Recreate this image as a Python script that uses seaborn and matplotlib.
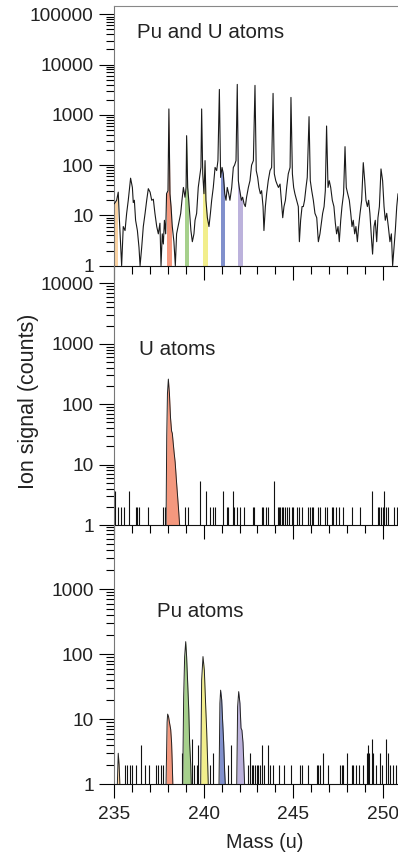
import numpy as np
import matplotlib
matplotlib.use("Agg")
import matplotlib.pyplot as plt
import matplotlib.ticker as ticker
from matplotlib.patches import Rectangle
import seaborn as sns

sns.set_style("ticks")
plt.rcParams['font.family'] = ['Liberation Sans', 'DejaVu Sans']

# --- top panel: Pu and U atoms (mass in u, ion counts) ---
mix_mass = [235.00, 235.13, 235.22, 235.28, 235.41, 235.50, 235.60, 235.69, 235.78, 235.91,
            236.01, 236.06, 236.12, 236.19, 236.29, 236.38, 236.44, 236.53, 236.62, 236.72,
            236.81, 236.90, 237.00, 237.09, 237.18, 237.27, 237.37, 237.46, 237.55, 237.61,
            237.68, 237.74, 237.80, 237.87, 237.92, 238.00, 238.05, 238.11, 238.17, 238.24,
            238.33, 238.41, 238.48, 238.56, 238.63, 238.71, 238.78, 238.86, 238.95, 239.01,
            239.04, 239.10, 239.16, 239.23, 239.28, 239.36, 239.45, 239.51, 239.60, 239.69,
            239.79, 239.84, 239.88, 239.94, 240.01, 240.07, 240.12, 240.20, 240.29, 240.37,
            240.44, 240.53, 240.63, 240.72, 240.79, 240.87, 240.94, 241.02, 241.09, 241.17,
            241.24, 241.31, 241.39, 241.46, 241.56, 241.65, 241.72, 241.80, 241.87, 241.93,
            241.98, 242.04, 242.10, 242.17, 242.25, 242.32, 242.39, 242.49, 242.58, 242.67,
            242.77, 242.86, 242.93, 243.01, 243.08, 243.16, 243.23, 243.31, 243.36, 243.44,
            243.51, 243.60, 243.70, 243.79, 243.87, 243.94, 244.02, 244.09, 244.17, 244.26,
            244.33, 244.41, 244.48, 244.56, 244.63, 244.72, 244.82, 244.87, 244.95, 245.02,
            245.09, 245.19, 245.28, 245.34, 245.41, 245.49, 245.56, 245.63, 245.71, 245.78,
            245.88, 245.95, 246.03, 246.12, 246.21, 246.31, 246.40, 246.49, 246.57, 246.64,
            246.72, 246.79, 246.86, 246.94, 247.01, 247.09, 247.18, 247.27, 247.35, 247.42,
            247.50, 247.57, 247.65, 247.72, 247.81, 247.89, 247.96, 248.04, 248.13, 248.21,
            248.28, 248.35, 248.43, 248.50, 248.58, 248.65, 248.73, 248.82, 248.91, 248.99,
            249.06, 249.14, 249.21, 249.28, 249.38, 249.43, 249.51, 249.58, 249.66, 249.73,
            249.81, 249.90, 249.99, 250.07, 250.14, 250.22, 250.31, 250.40, 250.48, 250.55,
            250.63, 250.70, 250.78, 250.85]
mix_counts = [17, 20, 29, 9, 1, 6, 5, 11, 20, 55,
              36, 18, 20, 8, 5, 2.3, 1, 2.3, 6, 11,
              20, 34, 29, 20, 21, 11, 6, 4.3, 7, 1,
              4.3, 2.7, 8, 4.3, 27, 31, 1310, 27, 15, 6,
              3, 1, 4.3, 6, 8, 11, 20, 36, 23, 36,
              385, 36, 20, 9, 5, 3, 4.3, 8, 11, 36,
              67, 90, 1310, 67, 27, 123, 20, 9, 6, 11,
              20, 36, 90, 78, 123, 3200, 57, 90, 67, 27,
              20, 36, 27, 20, 36, 90, 100, 123, 4030, 49,
              36, 27, 20, 23, 17, 15, 23, 36, 49, 100,
              123, 3850, 78, 57, 36, 27, 31, 15, 5, 15,
              27, 49, 78, 90, 2670, 67, 49, 42, 36, 42,
              20, 9, 15, 20, 36, 67, 90, 2220, 67, 36,
              27, 20, 15, 3, 8, 15, 15, 20, 36, 57,
              920, 49, 31, 20, 11, 9, 3, 4.3, 7, 11,
              15, 31, 600, 36, 49, 36, 20, 15, 7, 4.3,
              6, 3, 8, 15, 27, 233, 36, 27, 20, 11,
              6, 8, 4.3, 6, 3, 6, 11, 20, 112, 49,
              20, 15, 20, 11, 3, 1.7, 6, 8, 3, 9,
              15, 84, 49, 15, 8, 11, 6, 3, 4.3, 1,
              2.3, 5, 15, 27]

# isotope windows highlighted in the top panel
iso_labels = ['235', '238', '239', '240', '241', '242']
iso_start = [235.00, 237.93, 238.95, 239.94, 240.94, 241.93]
iso_end = [235.13, 238.15, 239.13, 240.16, 241.13, 242.15]
iso_colors = ['#fbd3a2', '#f4987e', '#a6d08c', '#f2ee8c', '#8190cc', '#bcb2dc']

# --- middle panel: U atoms ---
u_peak_mass = [237.89, 237.93, 237.97, 238.02, 238.08, 238.14, 238.20, 238.24, 238.34,
               238.40, 238.48, 238.58, 238.65]
u_peak_counts = [1, 30, 150, 260, 150, 60, 36, 33, 16, 11, 5, 2, 1]
u_spike_mass = [235.04, 235.23, 235.36, 235.56, 235.84, 236.19, 236.25, 236.38, 236.86, 237.74,
                237.83, 238.95, 239.13, 239.79, 240.12, 240.35, 240.49, 240.62, 241.09, 241.28,
                241.37, 241.61, 241.69, 241.84, 242.02, 242.25, 242.73, 242.80, 243.23, 243.33,
                243.46, 243.57, 243.94, 244.13, 244.20, 244.26, 244.35, 244.44, 244.55, 244.63,
                244.78, 244.91, 245.00, 245.19, 245.34, 245.47, 245.80, 245.93, 246.03, 246.12,
                246.40, 246.49, 246.77, 246.86, 247.14, 247.24, 247.39, 247.53, 247.79, 248.26,
                248.72, 249.38, 249.71, 249.81, 249.90, 250.00, 250.09, 250.19, 250.27, 250.61,
                250.78]
u_spike_counts = [3.7, 2, 2, 2, 3.7, 2, 2, 2, 2, 2,
                  2, 2, 2, 5.3, 3.7, 2, 2, 2, 3.7, 2,
                  2, 3.7, 2, 2, 2, 2, 2, 2, 2, 2,
                  2, 2, 5.3, 2, 2, 2, 2, 2, 2, 2,
                  2, 2, 2, 2, 2, 2, 2, 2, 2, 2,
                  2, 2, 2, 2, 2, 2, 2, 2, 2, 2,
                  2, 3.7, 2, 2, 2, 2, 3.7, 2, 2, 2,
                  2]

# --- bottom panel: Pu atoms (one peak per isotope, same order as iso_colors) ---
pu_peak_mass = [
    [235.17, 235.22, 235.27, 235.31],
    [237.89, 237.95, 237.98, 238.03, 238.08, 238.15, 238.20, 238.24, 238.27],
    [238.82, 238.875, 238.93, 238.99, 239.04, 239.10, 239.16, 239.21, 239.27, 239.30],
    [239.825, 239.88, 239.955, 240.03, 240.10, 240.16, 240.22, 240.25],
    [240.85, 240.90, 240.94, 241.00, 241.05, 241.11, 241.165, 241.20],
    [241.84, 241.89, 241.95, 242.02, 242.08, 242.13, 242.19, 242.24, 242.28],
]
pu_peak_counts = [
    [1, 3, 2, 1],
    [1, 9, 12, 11, 9, 7, 4.4, 2, 1],
    [1, 22, 92, 156, 92, 36, 14, 4.3, 2, 1],
    [1, 40, 92, 57, 17.6, 6.8, 2, 1],
    [1, 17.6, 28, 20, 9.7, 4.4, 1.6, 1],
    [1, 15.6, 26.6, 17.6, 7.3, 6.8, 4.4, 2, 1],
]
pu_spike_mass = [235.60, 235.69, 235.88, 236.01, 236.19, 236.47, 236.72, 236.96, 237.33, 237.46,
                 237.61, 237.74, 238.76, 239.32, 239.47, 239.60, 239.69, 240.35, 240.53, 241.37,
                 241.52, 242.45, 242.58, 242.67, 242.77, 242.86, 242.95, 243.05, 243.14, 243.27,
                 243.38, 243.60, 243.70, 243.85, 244.20, 244.48, 244.87, 245.37, 245.50, 245.84,
                 246.31, 246.40, 246.49, 246.64, 246.96, 247.61, 247.70, 247.80, 247.98, 248.26,
                 248.35, 248.50, 248.69, 248.91, 249.10, 249.15, 249.25, 249.38, 249.47, 249.62,
                 249.84, 249.93, 250.18, 250.27, 250.40, 250.55, 250.74]
pu_spike_counts = [2, 2, 2, 2, 2, 4, 2, 2, 2, 2,
                   2, 2, 3, 5, 2, 2, 4, 2, 3, 2,
                   4, 2, 3, 2, 2, 2, 2, 2, 2, 4,
                   2, 4, 2, 2, 2, 2, 2, 2, 2, 2,
                   2, 2, 2, 3, 2, 2, 2, 2, 3, 2,
                   2, 2, 2, 2, 3, 4, 3, 5, 3, 2,
                   3, 2, 5, 3, 2, 2, 2]

panel_titles = ['Pu and U atoms', 'U atoms', 'Pu atoms']
panel_ylims = [(1, 1.48e5), (1, 1.96e4), (1, 9700)]

fig = plt.figure(figsize=(3.98, 8.57), dpi=100)
W, H = 398, 857
left = 114.3 / W
boxes = [(5.7, 265.7), (265.7, 525.0), (525.0, 784.3)]
axes = []
for top, bot in boxes:
    ax = fig.add_axes([left, 1 - bot / H, 1 - left, (bot - top) / H])
    ax.patch.set_alpha(0)
    axes.append(ax)
ax1, ax2, ax3 = axes

# top panel
sns.lineplot(x=mix_mass, y=mix_counts, ax=ax1, color='#1a1a1a', lw=0.8, estimator=None, zorder=3)
for x0, x1, c in zip(iso_start, iso_end, iso_colors):
    band = ax1.fill_between(mix_mass, 1, mix_counts, color=c, lw=0, zorder=2)
    clip = Rectangle((x0, 0.5), x1 - x0, 1e7, transform=ax1.transData)
    band.set_clip_path(clip)

# middle panel
ax2.vlines(u_spike_mass, 1, u_spike_counts, colors='#111', lw=0.8, zorder=3)
ax2.fill_between(u_peak_mass, 1, u_peak_counts, color=iso_colors[1], lw=0, zorder=2)
sns.lineplot(x=u_peak_mass, y=u_peak_counts, ax=ax2, color='#222', lw=0.7, estimator=None, zorder=3)

# bottom panel
ax3.vlines(pu_spike_mass, 1, pu_spike_counts, colors='#111', lw=0.8, zorder=3)
for pm, pc, c in zip(pu_peak_mass, pu_peak_counts, iso_colors):
    ax3.fill_between(pm, 1, pc, color=c, lw=0, zorder=2)
    sns.lineplot(x=pm, y=pc, ax=ax3, color='#222', lw=0.7, estimator=None, zorder=3)

for i, ax in enumerate(axes):
    ax.set_yscale('log')
    ax.set_xlim(235, 250.85)
    ax.set_ylim(*panel_ylims[i])
    ax.set_xlabel('')
    ax.set_ylabel('')
    ax.xaxis.set_major_locator(ticker.MultipleLocator(5))
    ax.xaxis.set_minor_locator(ticker.MultipleLocator(1))
    ax.yaxis.set_major_locator(ticker.LogLocator(base=10, numticks=12))
    ax.yaxis.set_minor_locator(ticker.LogLocator(base=10, subs=np.arange(2, 10), numticks=12))
    ax.yaxis.set_major_formatter(ticker.FuncFormatter(lambda v, p: f'{v:.0f}'))
    ax.yaxis.set_minor_formatter(ticker.NullFormatter())
    ax.tick_params(which='both', direction='out', color='k', width=0.8)
    ax.tick_params(axis='y', which='major', length=10.8, labelsize=13.8, labelcolor='#222', pad=4)
    ax.tick_params(axis='y', which='minor', length=5.5)
    ax.tick_params(axis='x', which='major', length=10.3, labelsize=13.8, labelcolor='#222', pad=5)
    ax.tick_params(axis='x', which='minor', length=6)
    if i < 2:
        ax.tick_params(axis='x', labelbottom=False)
    ax.spines['right'].set_visible(False)
    ax.spines['left'].set_color('#777')
    ax.spines['bottom'].set_color('#111')
    ax.spines['left'].set_linewidth(0.8)
    ax.spines['bottom'].set_linewidth(0.8)
    if i == 0:
        ax.spines['top'].set_color('#888')
        ax.spines['top'].set_linewidth(0.8)
    else:
        ax.spines['top'].set_visible(False)

ax1.text(0.079, 0.895, panel_titles[0], transform=ax1.transAxes, ha='left', va='center',
         fontsize=14.8, color='#222')
ax2.text(0.088, 0.675, panel_titles[1], transform=ax2.transAxes, ha='left', va='center',
         fontsize=14.8, color='#222')
ax3.text(0.149, 0.666, panel_titles[2], transform=ax3.transAxes, ha='left', va='center',
         fontsize=14.8, color='#222')

fig.text(29 / W, 1 - 401 / H, 'Ion signal (counts)', rotation=90, ha='center', va='center',
         fontsize=15.5, color='#222')
fig.text(265 / W, 1 - 843 / H, 'Mass (u)', ha='center', va='center', fontsize=14.3, color='#222')

fig.savefig('out.png', dpi=100)
